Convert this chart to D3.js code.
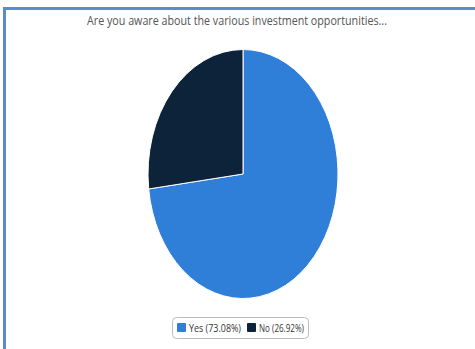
<!DOCTYPE html>
<html>
<head>
<meta charset="utf-8">
<script src="https://cdn.jsdelivr.net/npm/d3@7"></script>
<style>
  html, body { margin: 0; padding: 0; background: #fff; }
  svg { display: block; }
</style>
</head>
<body>
<svg id="chart" width="475" height="349"></svg>
<script>
// Survey answers and their shares (percent)
const categories = ["Yes", "No"];
const shares = [73.08, 26.92];
const colors = ["#2f7ed8", "#0d233a"];
const title = "Are you aware about the various investment opportunities...";

const W = 475, H = 349;
const svg = d3.select("#chart");

// Frame around the panel
svg.append("rect")
  .attr("x", 4.5).attr("y", 8.5)
  .attr("width", W + 10).attr("height", H + 10)
  .attr("fill", "none")
  .attr("stroke", "#5b8bc9")
  .attr("stroke-width", 3);

// Title
svg.append("text")
  .attr("x", 237).attr("y", 25)
  .attr("text-anchor", "middle")
  .attr("font-family", "'Liberation Sans Narrow', 'Open Sans', sans-serif")
  .attr("font-size", 13)
  .attr("fill", "#555")
  .attr("textLength", 300)
  .attr("lengthAdjust", "spacingAndGlyphs")
  .text(title);

// Pie: drawn as a circle, then stretched vertically into an ellipse
const cx = 243, cy = 174, rx = 95, ry = 124.5;
const pie = d3.pie().sort(null).value(d => d);
const arc = d3.arc().innerRadius(0).outerRadius(rx);

const g = svg.append("g")
  .attr("transform", `translate(${cx},${cy}) scale(1,${ry / rx})`);

g.selectAll("path")
  .data(pie(shares))
  .join("path")
  .attr("d", arc)
  .attr("fill", (d, i) => colors[i])
  .attr("stroke", "#fff")
  .attr("stroke-width", 1)
  .attr("vector-effect", "non-scaling-stroke");

// Legend
const legend = svg.append("g");
legend.append("rect")
  .attr("x", 172.5).attr("y", 317.5)
  .attr("width", 136).attr("height", 21)
  .attr("rx", 4)
  .attr("fill", "#fff")
  .attr("stroke", "#bbb");

const items = [
  { sw: 177, tx: 189, w: 52 },
  { sw: 247, tx: 259, w: 45 }
];
categories.forEach((c, i) => {
  const it = items[i];
  legend.append("rect")
    .attr("x", it.sw).attr("y", 323)
    .attr("width", 9).attr("height", 9)
    .attr("rx", 1)
    .attr("fill", colors[i]);
  legend.append("text")
    .attr("x", it.tx).attr("y", 331.5)
    .attr("font-family", "'Liberation Sans Narrow', 'Open Sans', sans-serif")
    .attr("font-size", 10)
    .attr("fill", "#333")
    .attr("textLength", it.w)
    .attr("lengthAdjust", "spacingAndGlyphs")
    .text(`${c} (${d3.format(".2f")(shares[i])}%)`);
});
</script>
</body>
</html>
